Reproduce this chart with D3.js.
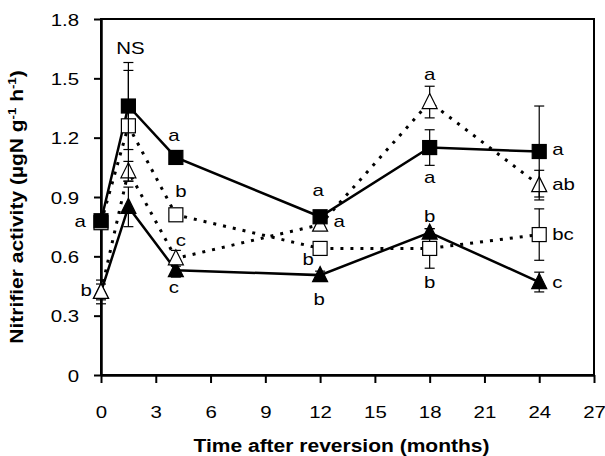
<!DOCTYPE html>
<html>
<head>
<meta charset="utf-8">
<script src="https://cdn.jsdelivr.net/npm/d3@7"></script>
<style>
  body { margin: 0; background: #fff; }
  #chart { width: 605px; height: 456px; }
  text { font-family: "Liberation Sans", Arial, sans-serif; fill: #000; }
</style>
</head>
<body>
<div id="chart"></div>
<script>
/* DATA */
const months = [0, 1.5, 4.1, 12, 18, 24];

const filledSquare      = [0.78, 1.36, 1.10, 0.80, 1.15, 1.13];
const filledSquareErr   = [0.03, 0.22, 0.03, 0.02, 0.09, 0.23];
const openSquare        = [0.77, 1.26, 0.81, 0.64, 0.64, 0.71];
const openSquareErr     = [0.03, 0.28, 0.02, 0.02, 0.10, 0.13];
const openTriangle      = [0.42, 1.03, 0.59, 0.76, 1.38, 0.96];
const openTriangleErr   = [0.06, 0.05, 0.04, 0.02, 0.08, 0.075];
const filledTriangle    = [0.42, 0.85, 0.53, 0.505, 0.72, 0.47];
const filledTriangleErr = [0.04, 0.10, 0.035, 0.02, 0.02, 0.05];

const filledSquareLetters   = ["a", "", "a", "a", "a", "a"];
const openSquareLetters     = ["", "", "b", "b", "b", "bc"];
const openTriangleLetters   = ["b", "", "c", "a", "a", "ab"];
const filledTriangleLetters = ["", "", "c", "b", "b", "c"];

const xTicks = [0, 3, 6, 9, 12, 15, 18, 21, 24, 27];
const yTicks = [0, 0.3, 0.6, 0.9, 1.2, 1.5, 1.8];

/* SVG */
const width = 605, height = 456;
const margin = {top: 19, left: 101, right: 11, bottom: 81};
const stretch = 1.2;   // text in the original is a bit wide

const svg = d3.select("#chart").append("svg")
    .attr("width", width)
    .attr("height", height);

const xScale = d3.scaleLinear().domain([0, 27]).range([margin.left, width - margin.right]);
const yScale = d3.scaleLinear().domain([0, 1.8]).range([height - margin.bottom, margin.top]);

/* frame (top + right) */
svg.append("rect")
    .attr("x", xScale(0)).attr("y", yScale(1.8))
    .attr("width", xScale(27) - xScale(0))
    .attr("height", yScale(0) - yScale(1.8))
    .attr("fill", "none").attr("stroke", "#000").attr("stroke-width", 2);

/* AXES */
const xAxis = svg.append("g")
    .attr("class", "axis")
    .attr("transform", `translate(0,${yScale(0)})`)
    .call(d3.axisBottom(xScale).tickValues(xTicks).tickSize(8).tickPadding(23).tickSizeOuter(0));

const yAxis = svg.append("g")
    .attr("class", "axis")
    .attr("transform", `translate(${xScale(0)},0)`)
    .call(d3.axisLeft(yScale).tickValues(yTicks).tickSize(7).tickPadding(15).tickSizeOuter(0)
        .tickFormat(d => d === 0 ? "0" : d3.format(".1f")(d)));

svg.selectAll(".axis path").attr("stroke-width", 2.5);
svg.selectAll(".axis line").attr("stroke-width", 2);
svg.selectAll(".axis text")
    .attr("font-family", "Liberation Sans, Arial, sans-serif")
    .attr("font-size", 17);
yAxis.selectAll("text").attr("dy", "0.36em");

/* SERIES (drawing order = stacking order) */
// letter placement: [dx, dy, anchor] relative to the marker
const series = [
    {vals: filledTriangle, err: filledTriangleErr, letters: filledTriangleLetters, shape: "tri", fill: "#000", dash: null,
     pos: [null, null, [-2, 17, "middle"], [-1, 24, "middle"], [0, -17, "middle"], [13, 0, "start"]]},
    {vals: openTriangle, err: openTriangleErr, letters: openTriangleLetters, shape: "tri", fill: "#fff", dash: "3,7",
     pos: [[-9, -2, "end"], null, [5, -18, "middle"], [19, -4, "middle"], [0, -28, "middle"], [13, -1, "start"]]},
    {vals: openSquare, err: openSquareErr, letters: openSquareLetters, shape: "sq", fill: "#fff", dash: "3,7",
     pos: [null, null, [5, -24, "middle"], [-12, 11, "middle"], [0, 34, "middle"], [13, -1, "start"]]},
    {vals: filledSquare, err: filledSquareErr, letters: filledSquareLetters, shape: "sq", fill: "#000", dash: null,
     pos: [[-15, 0, "end"], null, [-2, -22, "middle"], [-2, -27, "middle"], [0, 29, "middle"], [13, -2, "start"]]}
];

const line = d3.line()
    .x(d => xScale(d.t))
    .y(d => yScale(d.v));

series.forEach(function(s) {
    const pts = months.map((t, i) => ({t: t, v: s.vals[i], e: s.err[i]}));
    svg.append("path")
        .datum(pts)
        .attr("d", line)
        .attr("fill", "none")
        .attr("stroke", "#000")
        .attr("stroke-width", s.dash ? 3 : 2.5)
        .attr("stroke-dasharray", s.dash);
});

series.forEach(function(s) {
    const pts = months.map((t, i) => ({t: t, v: s.vals[i], e: s.err[i]}));
    const g = svg.append("g");

    g.selectAll("line.err")
        .data(pts)
        .enter()
        .append("line")
        .attr("x1", d => xScale(d.t)).attr("x2", d => xScale(d.t))
        .attr("y1", d => yScale(d.v + d.e)).attr("y2", d => yScale(d.v - d.e))
        .attr("stroke", "#000").attr("stroke-width", 1.2);

    [1, -1].forEach(function(sign) {
        g.selectAll(null)
            .data(pts)
            .enter()
            .append("line")
            .attr("x1", d => xScale(d.t) - 5).attr("x2", d => xScale(d.t) + 5)
            .attr("y1", d => yScale(d.v + sign * d.e)).attr("y2", d => yScale(d.v + sign * d.e))
            .attr("stroke", "#000").attr("stroke-width", 1.2);
    });

    if (s.shape === "sq") {
        g.selectAll("rect")
            .data(pts)
            .enter()
            .append("rect")
            .attr("x", d => xScale(d.t) - 7)
            .attr("y", d => yScale(d.v) - 7)
            .attr("width", 14).attr("height", 14)
            .attr("fill", s.fill).attr("stroke", "#000").attr("stroke-width", 1.2);
    } else {
        g.selectAll("path")
            .data(pts)
            .enter()
            .append("path")
            .attr("d", d => {
                const x = xScale(d.t), y = yScale(d.v);
                return `M${x},${y - 8.5}L${x + 7.5},${y + 6.5}L${x - 7.5},${y + 6.5}Z`;
            })
            .attr("fill", s.fill).attr("stroke", "#000").attr("stroke-width", 1.2);
    }
});

/* SIGNIFICANCE LETTERS */
series.forEach(function(s) {
    months.forEach(function(t, i) {
        if (!s.letters[i]) return;
        const off = s.pos[i];
        svg.append("text")
            .attr("class", "letter")
            .attr("font-size", 17)
            .attr("x", xScale(t) + off[0])
            .attr("y", yScale(s.vals[i]) + off[1])
            .attr("dy", "0.35em")
            .attr("text-anchor", off[2])
            .text(s.letters[i]);
    });
});

svg.append("text")
    .attr("class", "letter")
    .attr("font-size", 17)
    .attr("x", xScale(months[1]) + 2)
    .attr("y", 48)
    .attr("dy", "0.35em")
    .attr("text-anchor", "middle")
    .text("NS");

/* AXIS LABELS */
svg.append("text")
    .attr("class", "xLabel")
    .attr("font-size", 17.5)
    .attr("font-weight", "bold")
    .attr("x", (xScale(0) + xScale(27)) / 2 - 6)
    .attr("y", 452)
    .attr("text-anchor", "middle")
    .text("Time after reversion (months)");

// widen the simple texts the way the original looks
svg.selectAll(".axis text, .letter, .xLabel").each(function() {
    const len = this.getComputedTextLength();
    d3.select(this).attr("textLength", len * stretch).attr("lengthAdjust", "spacingAndGlyphs");
});

const yLab = svg.append("text")
    .attr("font-size", 17.5)
    .attr("font-weight", "bold")
    .attr("transform", `translate(23,207) rotate(-90) scale(${stretch},1)`)
    .attr("text-anchor", "middle");
yLab.append("tspan").text("Nitrifier activity (µgN g");
yLab.append("tspan").attr("font-size", 11).attr("dy", -7).text("-1");
yLab.append("tspan").attr("dy", 7).text(" h");
yLab.append("tspan").attr("font-size", 11).attr("dy", -7).text("-1");
yLab.append("tspan").attr("dy", 7).text(")");
</script>
</body>
</html>
